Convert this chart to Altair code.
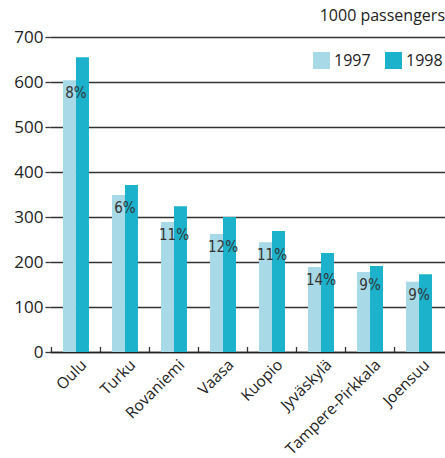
import altair as alt
import pandas as pd

cities = ["Oulu", "Turku", "Rovaniemi", "Vaasa", "Kuopio", "Jyväskylä", "Tampere-Pirkkala", "Joensuu"]
v1997 = [604, 349, 289, 262, 244, 189, 178, 156]
v1998 = [655, 371, 324, 300, 269, 220, 191, 173]
growth = ["8%", "6%", "11%", "12%", "11%", "14%", "9%", "9%"]
years = ["1997", "1998"]
colors = ["#a8d9e6", "#1cb2cb"]
y_ticks = [0, 100, 200, 300, 400, 500, 600, 700]

rows = []
for c, a, b in zip(cities, v1997, v1998):
    rows.append({"city": c, "year": "1997", "value": a})
    rows.append({"city": c, "year": "1998", "value": b})
df = pd.DataFrame(rows)
lab = pd.DataFrame({"city": cities, "v": v1997, "g": growth})

FONT = "Open Sans"
xscale = alt.Scale(domain=cities, paddingInner=0.47, paddingOuter=0.265)
yscale = alt.Scale(domain=[0, 700], nice=False)

bars = alt.Chart(df).mark_bar().encode(
    x=alt.X("city:N", scale=xscale, sort=cities, title=None,
            axis=alt.Axis(labelAngle=-45, labelFontSize=15.5, labelFont=FONT, labelColor="#222",
                          ticks=False, domain=True, domainColor="#222", domainWidth=1.5,
                          labelPadding=5, labelOffset=3)),
    xOffset=alt.XOffset("year:N", sort=years),
    y=alt.Y("value:Q", scale=yscale, title=None,
            axis=alt.Axis(values=y_ticks, grid=True, gridColor="#333", gridWidth=1.3,
                          domain=False, tickSize=5, tickColor="#333", tickWidth=1.3,
                          labelFontSize=17, labelFont=FONT, labelColor="#222", labelPadding=2)),
    color=alt.Color("year:N", scale=alt.Scale(domain=years, range=colors),
                    legend=alt.Legend(orient="none", legendX=263, legendY=15, direction="horizontal",
                                      title=None, symbolType="square", symbolSize=289,
                                      symbolStrokeWidth=0, labelFontSize=16, labelFont=FONT,
                                      labelColor="#222", columnPadding=14, labelOffset=4)),
)

ticks = alt.Chart(lab).mark_rule(color="#333", strokeWidth=1.3, xOffset=-24.5).encode(
    x=alt.X("city:N", scale=xscale, sort=cities),
    y=alt.value(310), y2=alt.value(315),
)

texts = alt.Chart(lab).mark_text(font="DejaVu Sans Condensed", fontSize=15, color="#333",
                                 baseline="middle", dy=13).encode(
    x=alt.X("city:N", scale=xscale, sort=cities),
    y=alt.Y("v:Q", scale=yscale),
    text="g:N",
)

chart = alt.layer(bars, ticks, texts).properties(
    width=395, height=315,
    title=alt.TitleParams("1000 passengers", anchor="end", fontSize=16, font=FONT,
                          fontWeight="normal", color="#222", offset=4),
    autosize=alt.AutoSizeParams(type="none"),
    padding={"left": 50, "top": 37, "right": 0, "bottom": 106},
).configure_view(stroke=None)

chart.save("out.html", embed_options={"renderer": "svg", "actions": False})
